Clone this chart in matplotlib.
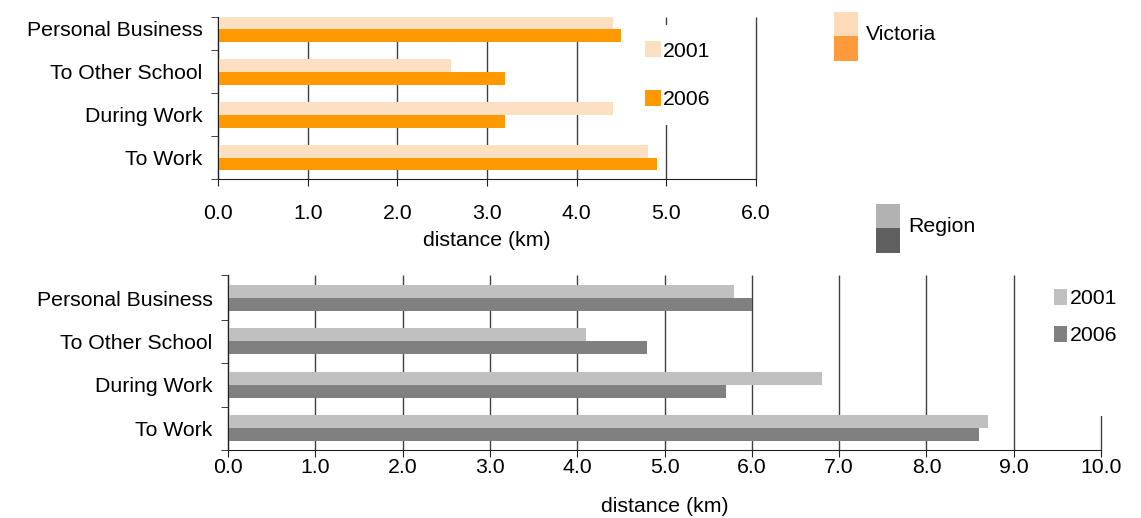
import matplotlib
matplotlib.use("Agg")
import matplotlib.pyplot as plt
from matplotlib.patches import Rectangle
import numpy as np

plt.rcParams['font.family'] = ['Liberation Sans', 'DejaVu Sans']

categories = ["To Work", "During Work", "To Other School", "Personal Business"]
vic_2001 = [4.8, 4.4, 2.6, 4.4]
vic_2006 = [4.9, 3.2, 3.2, 4.5]
reg_2001 = [8.7, 6.8, 4.1, 5.8]
reg_2006 = [8.6, 5.7, 4.8, 6.0]
series_labels = ["2001", "2006"]

C_VIC01, C_VIC06 = "#FDE0C2", "#FF9900"
C_REG01, C_REG06 = "#C0C0C0", "#808080"

W, H = 1141, 518
fig = plt.figure(figsize=(W / 100, H / 100), dpi=100)

def px_axes(l, t, r, b):
    return fig.add_axes([l / W, 1 - b / H, (r - l) / W, (b - t) / H])

FS = 15.3
bh = 0.3

def style(ax, xmax, ylim, ticklab_pad, xlab_pad):
    ax.set_xlim(0, xmax)
    ax.set_ylim(*ylim)
    ax.set_axisbelow(True)
    ax.grid(axis='x', color='#404040', lw=1)
    for s in ['top', 'right']:
        ax.spines[s].set_visible(False)
    for s in ['left', 'bottom']:
        ax.spines[s].set_color('#202020')
    ax.set_xticks(np.arange(0, xmax + 0.5, 1))
    ax.set_xticklabels([f"{v:.1f}" for v in np.arange(0, xmax + 0.5, 1)], fontsize=FS)
    ax.set_yticks(np.arange(len(categories)))
    ax.set_yticklabels(categories, fontsize=FS)
    ax.tick_params(axis='y', length=0, pad=11)
    ax.set_yticks([-0.5, 0.5, 1.5, 2.5, ylim[1]], minor=True)
    ax.tick_params(axis='y', which='minor', length=5, color='#202020')
    ax.tick_params(axis='x', length=5, pad=ticklab_pad, color='#202020')
    ax.set_xlabel("distance (km)", fontsize=FS, labelpad=xlab_pad)
    for gl in ax.get_xgridlines():
        gl.set_clip_on(False)
        gl.set_solid_capstyle('butt')

y = np.arange(len(categories))

# Top chart (Victoria)
ax1 = px_axes(218, 17, 756, 179)
b1 = ax1.barh(y + bh / 2, vic_2001, height=bh, color=C_VIC01, label=series_labels[0])
b2 = ax1.barh(y - bh / 2, vic_2006, height=bh, color=C_VIC06, label=series_labels[1])
style(ax1, 6, (-0.49, 3.28), 13, 6)
ax1.add_patch(Rectangle((638 / W, 1 - 125 / H), 80 / W, 100 / H, transform=fig.transFigure,
                        facecolor='white', edgecolor='none', zorder=2.5, clip_on=False))
ax1.legend(handles=[b1, b2], loc='upper left', bbox_to_anchor=(645 / W, 1 - 41 / H),
           bbox_transform=fig.transFigure, frameon=False, fontsize=FS,
           handlelength=0.75, handleheight=0.8, handletextpad=0.1, labelspacing=1.38,
           borderpad=0, borderaxespad=0)

# Bottom chart (Region)
ax2 = px_axes(228, 275, 1101, 450)
b3 = ax2.barh(y + bh / 2, reg_2001, height=bh, color=C_REG01, label=series_labels[0])
b4 = ax2.barh(y - bh / 2, reg_2006, height=bh, color=C_REG06, label=series_labels[1])
style(ax2, 10, (-0.48, 3.53), 1, 14)
ax2.add_patch(Rectangle((1040 / W, 1 - 416 / H), 82 / W, 146 / H, transform=fig.transFigure,
                        facecolor='white', edgecolor='none', zorder=2.5, clip_on=False))
ax2.legend(handles=[b3, b4], loc='upper left', bbox_to_anchor=(1054 / W, 1 - 289 / H),
           bbox_transform=fig.transFigure, frameon=False, fontsize=FS,
           handlelength=0.6, handleheight=0.75, handletextpad=0.15, labelspacing=0.85,
           borderpad=0, borderaxespad=0)

# Group legends (Victoria / Region)
def group_key(x, ytop, c_top, c_bot, label):
    fig.add_artist(Rectangle((x / W, 1 - (ytop + 24) / H), 24 / W, 24 / H,
                             transform=fig.transFigure, facecolor=c_top, edgecolor='none'))
    fig.add_artist(Rectangle((x / W, 1 - (ytop + 49) / H), 24 / W, 25 / H,
                             transform=fig.transFigure, facecolor=c_bot, edgecolor='none'))
    fig.text((x + 32) / W, 1 - (ytop + 22) / H, label, fontsize=FS, va='center', ha='left')

group_key(834, 12, "#FDDBB8", "#FF9A3C", "Victoria")
group_key(876, 204, "#B2B2B2", "#5F5F5F", "Region")

fig.savefig("out.png", dpi=100)
